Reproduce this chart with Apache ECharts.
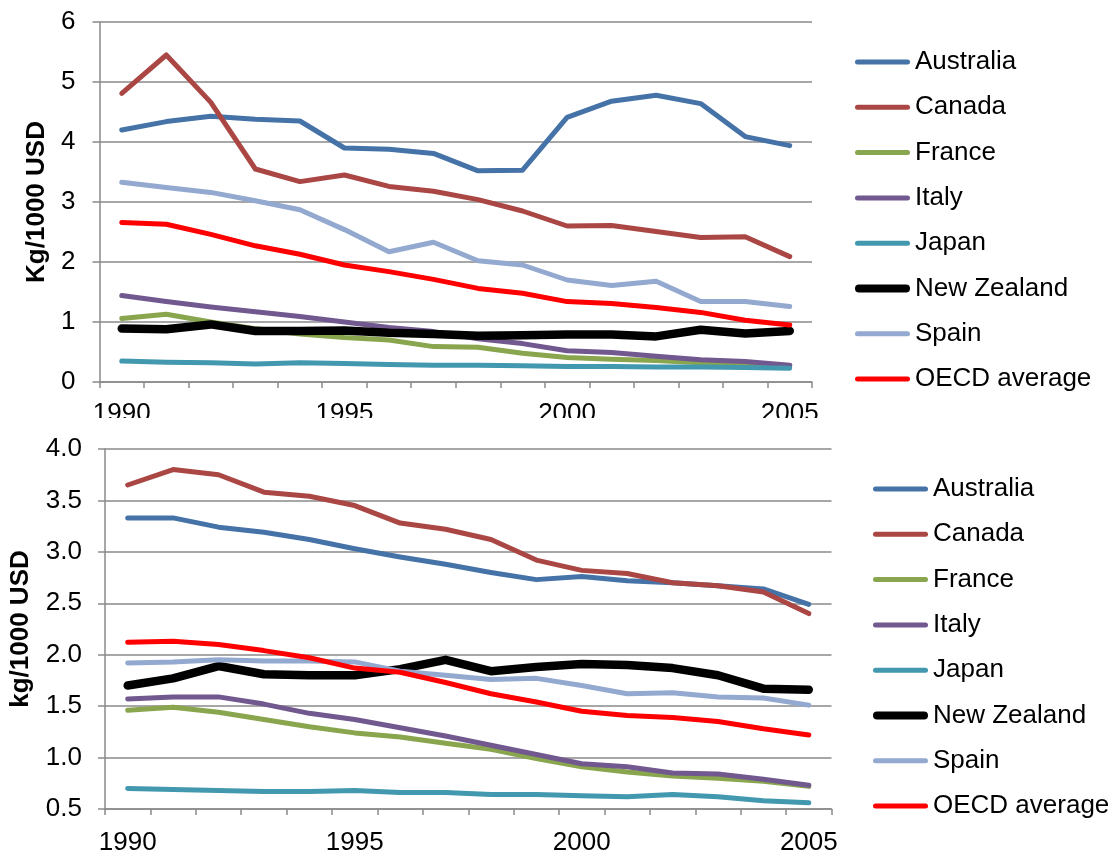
<!DOCTYPE html>
<html>
<head>
<meta charset="utf-8">
<script src="https://cdn.jsdelivr.net/npm/echarts@6/dist/echarts.min.js"></script>
<style>
  html, body { margin: 0; padding: 0; background: #fff; }
  #wrapTop { position: absolute; left: 0; top: 0; width: 1115px; height: 418px; overflow: hidden; }
  #top { position: absolute; left: 0; top: 0; width: 1115px; height: 450px; }
  #bottom { position: absolute; left: 0; top: 418px; width: 1115px; height: 440px; }
</style>
</head>
<body>
<div id="wrapTop"><div id="top"></div></div>
<div id="bottom"></div>
<script>
const years = ['1990','1991','1992','1993','1994','1995','1996','1997','1998','1999','2000','2001','2002','2003','2004','2005'];
const seriesNames = ['Australia','Canada','France','Italy','Japan','New Zealand','Spain','OECD average'];
const colors = ['#4572A7','#AA4643','#89A54E','#71588F','#4198AF','#000000','#93A9CF','#FF0000'];

// Top chart (Kg/1000 USD)
const topAustralia = [4.20,4.34,4.43,4.38,4.35,3.90,3.88,3.81,3.52,3.53,4.41,4.68,4.78,4.64,4.09,3.94];
const topCanada    = [4.81,5.45,4.66,3.55,3.34,3.45,3.26,3.18,3.04,2.85,2.60,2.61,2.51,2.41,2.42,2.09];
const topFrance    = [1.06,1.13,1.00,0.89,0.80,0.74,0.70,0.59,0.58,0.48,0.41,0.38,0.36,0.32,0.29,0.27];
const topItaly     = [1.44,1.34,1.25,1.17,1.09,1.00,0.91,0.84,0.72,0.64,0.52,0.49,0.43,0.37,0.34,0.28];
const topJapan     = [0.35,0.33,0.32,0.30,0.32,0.31,0.29,0.28,0.28,0.27,0.26,0.26,0.25,0.25,0.24,0.23];
const topNZ        = [0.89,0.88,0.96,0.85,0.85,0.86,0.82,0.80,0.77,0.78,0.79,0.79,0.76,0.87,0.81,0.85];
const topSpain     = [3.33,3.24,3.16,3.02,2.87,2.54,2.17,2.33,2.02,1.95,1.70,1.61,1.68,1.34,1.34,1.26];
const topOECD      = [2.66,2.63,2.46,2.27,2.13,1.95,1.84,1.71,1.56,1.48,1.34,1.31,1.24,1.16,1.03,0.95];

// Bottom chart (kg/1000 USD)
const botAustralia = [3.33,3.33,3.24,3.19,3.12,3.03,2.95,2.88,2.80,2.73,2.76,2.72,2.70,2.67,2.64,2.49];
const botCanada    = [3.65,3.80,3.75,3.58,3.54,3.45,3.28,3.22,3.12,2.92,2.82,2.79,2.70,2.67,2.61,2.40];
const botFrance    = [1.46,1.49,1.44,1.37,1.30,1.24,1.20,1.14,1.08,0.99,0.91,0.86,0.82,0.80,0.77,0.72];
const botItaly     = [1.57,1.59,1.59,1.52,1.43,1.37,1.29,1.21,1.12,1.03,0.94,0.91,0.85,0.84,0.79,0.73];
const botJapan     = [0.70,0.69,0.68,0.67,0.67,0.68,0.66,0.66,0.64,0.64,0.63,0.62,0.64,0.62,0.58,0.56];
const botNZ        = [1.70,1.77,1.89,1.81,1.80,1.80,1.86,1.95,1.84,1.88,1.91,1.90,1.87,1.80,1.67,1.66];
const botSpain     = [1.92,1.93,1.95,1.94,1.94,1.93,1.84,1.80,1.76,1.77,1.70,1.62,1.63,1.59,1.58,1.51];
const botOECD      = [2.12,2.13,2.10,2.04,1.97,1.87,1.83,1.73,1.62,1.54,1.45,1.41,1.39,1.35,1.28,1.22];

const topTicks = { min: 0, max: 6, interval: 1 };
const botTicks = { min: 0.5, max: 4.0, interval: 0.5 };

const FONT = '"Liberation Sans", Arial, sans-serif';
const GRID = '#8a8a8a';
const ICON_THIN = 'path://M2.5,0 H52.5 A2.5,2.5 0 0 1 52.5,5 H2.5 A2.5,2.5 0 0 1 2.5,0 Z';
const ICON_THICK = 'path://M4,0 H51 A4,4 0 0 1 51,8 H4 A4,4 0 0 1 4,0 Z';

function buildSeries(data) {
  return seriesNames.map((n, i) => ({
    name: n,
    type: 'line',
    data: data[i],
    symbol: 'none',
    smooth: false,
    animation: false,
    lineStyle: { color: colors[i], width: n === 'New Zealand' ? 8.5 : 5, cap: 'round', join: 'round' },
    itemStyle: { color: colors[i] }
  }));
}

function buildOption(cfg) {
  return {
    animation: false,
    color: colors,
    grid: { left: cfg.left, right: cfg.right, top: cfg.top, height: 360, containLabel: false },
    legend: {
      orient: 'vertical',
      left: cfg.legendLeft,
      top: cfg.legendTop,
      padding: 0,
      itemWidth: 55,
      itemHeight: 14,
      itemGap: 19.3,
      symbolKeepAspect: true,
      itemStyle: { borderWidth: 0 },
      textStyle: { fontFamily: FONT, fontSize: 26, color: '#000', lineHeight: 26 },
      data: seriesNames.map((n, i) => ({
        name: n,
        icon: n === 'New Zealand' ? ICON_THICK : ICON_THIN,
        itemStyle: { color: colors[i], borderWidth: 0 }
      }))
    },
    xAxis: {
      type: 'category',
      data: years,
      boundaryGap: true,
      axisLine: { show: true, lineStyle: { color: GRID, width: 1.5 } },
      axisTick: { show: true, interval: 0, length: 6, lineStyle: { color: GRID, width: 1.5 } },
      axisLabel: { interval: 4, margin: cfg.xMargin, fontFamily: FONT, fontSize: 26, color: '#000' },
      splitLine: { show: false }
    },
    yAxis: {
      type: 'value',
      min: cfg.ticks.min,
      max: cfg.ticks.max,
      interval: cfg.ticks.interval,
      name: cfg.yName,
      nameLocation: 'middle',
      nameGap: cfg.nameGap,
      nameTextStyle: { fontFamily: FONT, fontSize: 26, fontWeight: 'bold', color: '#000' },
      axisLine: { show: true, lineStyle: { color: GRID, width: 1.5 } },
      axisTick: { show: true, length: 7, lineStyle: { color: GRID, width: 1.5 } },
      axisLabel: {
        margin: cfg.yMargin, fontFamily: FONT, fontSize: 26, color: '#000',
        formatter: v => cfg.decimals ? v.toFixed(1) : String(v)
      },
      splitLine: { show: true, lineStyle: { color: GRID, width: 1.5 } }
    },
    series: buildSeries(cfg.data)
  };
}

const topChart = echarts.init(document.getElementById('top'), null, { renderer: 'canvas' });
topChart.setOption(buildOption({
  left: 99.5, right: 303, top: 22,
  legendLeft: 855, legendTop: 49,
  xMargin: 19, yMargin: 24, nameGap: 49, decimals: false,
  yName: 'Kg/1000 USD', ticks: topTicks,
  data: [topAustralia, topCanada, topFrance, topItaly, topJapan, topNZ, topSpain, topOECD]
}));

const botChart = echarts.init(document.getElementById('bottom'), null, { renderer: 'canvas' });
botChart.setOption(buildOption({
  left: 103, right: 283.5, top: 31,
  legendLeft: 873, legendTop: 58,
  xMargin: 21, yMargin: 23, nameGap: 71, decimals: true,
  yName: 'kg/1000 USD', ticks: botTicks,
  data: [botAustralia, botCanada, botFrance, botItaly, botJapan, botNZ, botSpain, botOECD]
}));
</script>
</body>
</html>
